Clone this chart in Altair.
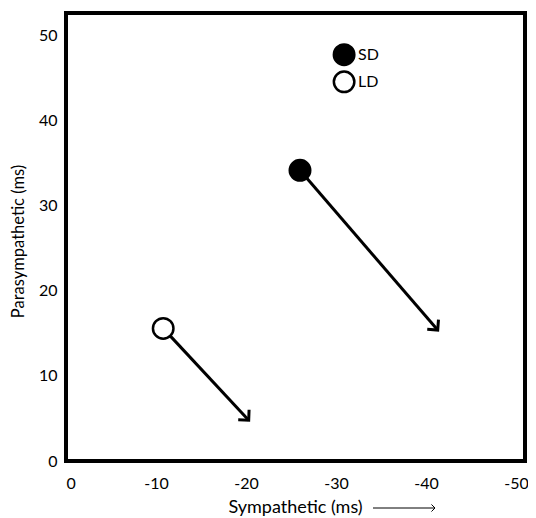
import math
import altair as alt
import pandas as pd

# ---- data ----
groups = ["SD", "LD"]
start_x = [-26.0, -10.8]
start_y = [34.2, 15.6]
end_x = [-41.3, -20.3]
end_y = [15.4, 4.8]

legend_labels = ["SD", "LD"]
legend_x = [-30.9, -30.9]
legend_y = [47.8, 44.6]

x_ticks = [0, -10, -20, -30, -40, -50]
y_ticks = [0, 10, 20, 30, 40, 50]

X_MAX = -51.0
Y_MAX = 52.7
W, H = 459, 448
FONT = "Lato"

px_x = W / abs(X_MAX)
px_y = H / Y_MAX
angles = []
for sx, sy, ex, ey in zip(start_x, start_y, end_x, end_y):
    dx = -(ex - sx) * px_x
    dy = -(ey - sy) * px_y
    angles.append(math.degrees(math.atan2(dy, dx)) % 360)

df = pd.DataFrame({"group": groups, "sx": start_x, "sy": start_y,
                   "ex": end_x, "ey": end_y, "angle": angles})
leg = pd.DataFrame({"group": legend_labels, "lx": legend_x, "ly": legend_y})

x_scale = alt.Scale(domain=[0, X_MAX], nice=False, zero=False)
y_scale = alt.Scale(domain=[0, Y_MAX], nice=False, zero=False)
fill_scale = alt.Scale(domain=groups, range=["black", "white"])

x_axis = alt.Axis(values=x_ticks, title="Sympathetic (ms)", labelExpr="'' + datum.value",
                  labelPadding=14, titleX=229, titleY=37, titleBaseline="top",
                  titleFontSize=18)
y_axis = alt.Axis(values=y_ticks, title="Parasympathetic (ms)", labelExpr="'' + datum.value",
                  labelPadding=9, titlePadding=12, titleFontSize=16.5, titleY=228)

base = alt.Chart(df)

arrows = base.mark_rule(color="black", strokeWidth=3).encode(
    x=alt.X("sx:Q", scale=x_scale, axis=x_axis),
    y=alt.Y("sy:Q", scale=y_scale, axis=y_axis),
    x2="ex:Q",
    y2="ey:Q",
)

heads = base.mark_point(shape="M-1,-1L0,0L-1,1", filled=False, stroke="black",
                        strokeWidth=3, size=220, opacity=1).encode(
    x=alt.X("ex:Q", scale=x_scale),
    y=alt.Y("ey:Q", scale=y_scale),
    angle=alt.Angle("angle:Q", scale=None),
)

points = base.mark_point(filled=True, shape="circle", size=420, stroke="black",
                         strokeWidth=2.5, opacity=1).encode(
    x=alt.X("sx:Q", scale=x_scale),
    y=alt.Y("sy:Q", scale=y_scale),
    fill=alt.Fill("group:N", scale=fill_scale, legend=None),
)

leg_pts = alt.Chart(leg).mark_point(filled=True, shape="circle", size=420, stroke="black",
                                    strokeWidth=2.5, opacity=1).encode(
    x=alt.X("lx:Q", scale=x_scale),
    y=alt.Y("ly:Q", scale=y_scale),
    fill=alt.Fill("group:N", scale=fill_scale, legend=None),
)
leg_txt = alt.Chart(leg).mark_text(align="left", baseline="middle", dx=14, font=FONT,
                                   fontSize=16, color="black").encode(
    x=alt.X("lx:Q", scale=x_scale),
    y=alt.Y("ly:Q", scale=y_scale),
    text="group:N",
)

deco = pd.DataFrame({"k": [0]})
title_arrow = alt.Chart(deco).mark_rule(color="black", strokeWidth=1).encode(
    x=alt.value(307), x2=alt.value(369), y=alt.value(495))
title_head = alt.Chart(deco).mark_point(shape="M-1,-1L0,0L-1,1", filled=False, stroke="black",
                                         strokeWidth=1, size=50, opacity=1).encode(
    x=alt.value(369), y=alt.value(495))

chart = alt.layer(arrows, heads, points, leg_pts, leg_txt, title_arrow, title_head).properties(
    width=W, height=H,
    autosize=alt.AutoSizeParams(type="none"),
    padding={"left": 58, "top": 5, "right": 3, "bottom": 57},
).configure_view(
    stroke="black", strokeWidth=4
).configure_axis(
    domain=False, ticks=False, grid=False,
    labelFont=FONT, labelFontSize=16, labelColor="black",
    titleFont=FONT, titleFontSize=16, titleFontWeight="normal", titleColor="black",
)

chart.save("out.html", embed_options={"renderer": "svg", "actions": False})
